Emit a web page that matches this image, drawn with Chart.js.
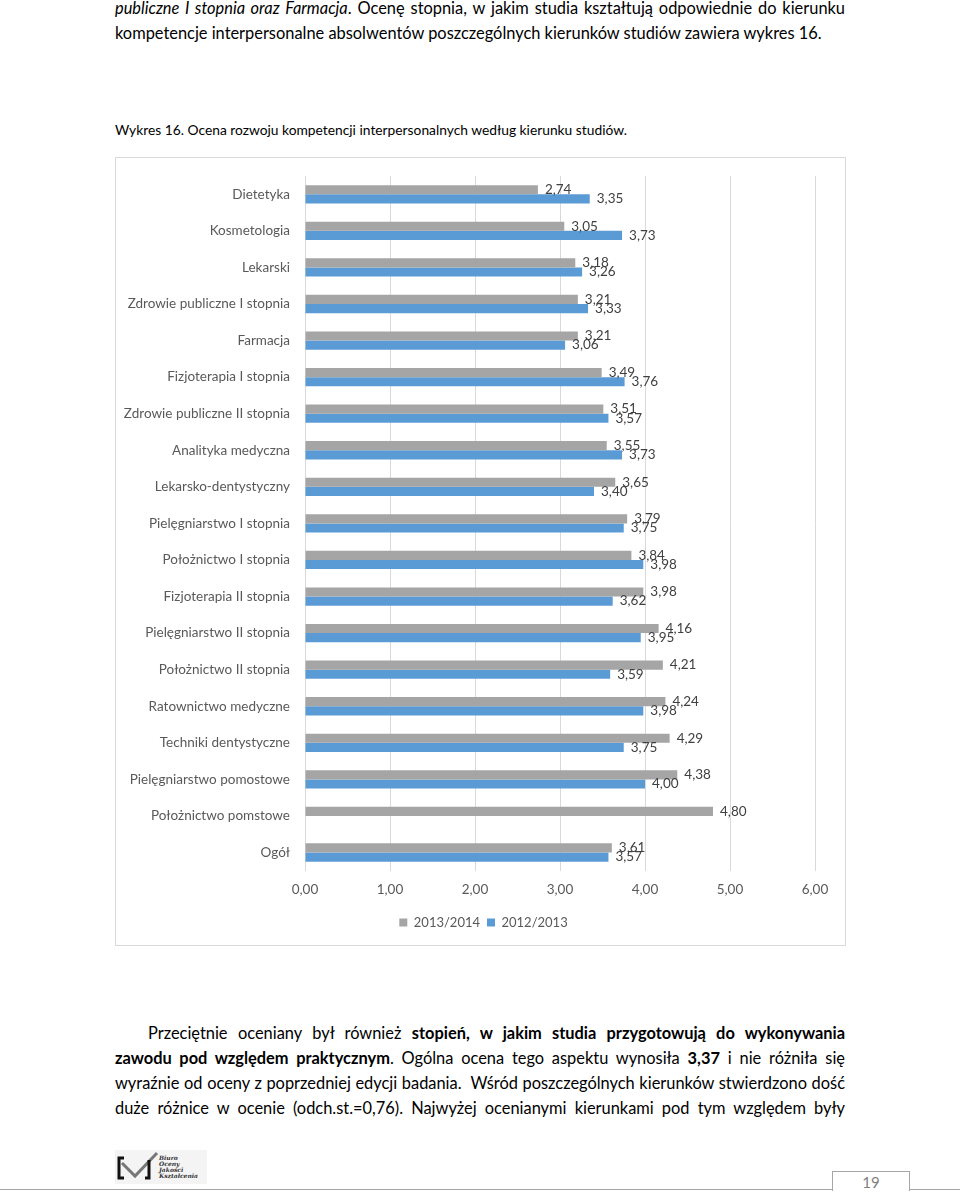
<!DOCTYPE html>
<html lang="pl">
<head>
<meta charset="utf-8">
<title>Wykres 16</title>
<script src="https://cdn.jsdelivr.net/npm/chart.js@4.4.1/dist/chart.umd.min.js"></script>
<style>
  html, body { margin: 0; padding: 0; background: #fff; }
  body {
    width: 960px; height: 1192px; position: relative; overflow: hidden;
    font-family: Lato, "Noto Sans", sans-serif; color: #000;
  }
  .para { position: absolute; left: 115px; width: 730px; font-size: 16.4px; }
  .para div { height: 24.5px; line-height: 24.5px; }
  .just { text-align: justify; text-align-last: justify; }
  .caption {
    position: absolute; left: 115px; top: 121px; font-size: 13.5px; line-height: 18px;
    white-space: nowrap; transform-origin: left center;
  }
  #chartBox {
    position: absolute; left: 115px; top: 157px; width: 731px; height: 789px;
    box-sizing: border-box; border: 1px solid #d9d9d9; background: #fff;
  }
  #chartWrap { position: relative; width: 729px; height: 787px; }
  .rule { position: absolute; left: 0; top: 1189px; width: 960px; height: 1px; background: #a6a6a6; }
  .pageNo {
    position: absolute; left: 832px; top: 1171px; width: 76px; height: 19px;
    border: 1px solid #a6a6a6; border-bottom: none; background: #fff;
    text-align: center; font-size: 15px; line-height: 21px; color: #7f7f7f;
  }
  .logo { position: absolute; left: 115px; top: 1150px; }
</style>
</head>
<body>

<div class="para" style="top:-4px;">
  <div class="just"><i>publiczne I stopnia oraz Farmacja</i>. Ocenę stopnia, w jakim studia kształtują odpowiednie do kierunku</div>
  <div>kompetencje interpersonalne absolwentów poszczególnych kierunków studiów zawiera wykres 16.</div>
</div>

<div class="caption" id="caption">Wykres 16. Ocena rozwoju kompetencji interpersonalnych według kierunku studiów.</div>

<div id="chartBox">
  <div id="chartWrap"><canvas id="chart"></canvas></div>
</div>

<div class="para" style="top:1020px;">
  <div class="just" style="line-height:25px;height:25px;text-indent:33px;">Przeciętnie oceniany był również <b>stopień, w jakim studia przygotowują do wykonywania</b></div>
  <div class="just" style="line-height:25px;height:25px;"><b>zawodu pod względem praktycznym</b>. Ogólna ocena tego aspektu wynosiła <b>3,37</b> i nie różniła się</div>
  <div class="just" style="line-height:25px;height:25px;">wyraźnie od oceny z poprzedniej edycji badania.&nbsp; Wśród poszczególnych kierunków stwierdzono dość</div>
  <div class="just" style="line-height:25px;height:25px;">duże różnice w ocenie (odch.st.=0,76). Najwyżej ocenianymi kierunkami pod tym względem były</div>
</div>

<svg class="logo" width="92" height="34" viewBox="0 0 92 34">
  <rect x="0" y="0" width="92" height="34" fill="#f4f4f4"/>
  <path d="M9 8 H4 V28 H9" fill="none" stroke="#111" stroke-width="3"/>
  <path d="M7 13 L20 26 L42 3" fill="none" stroke="#777" stroke-width="3"/>
  <path d="M34 10 V28 H30" fill="none" stroke="#111" stroke-width="3"/>
  <g font-family="DejaVu Serif, serif" font-style="italic" font-weight="bold" font-size="6" fill="#333">
    <text x="44" y="10">Biuro</text>
    <text x="44" y="16">Oceny</text>
    <text x="44" y="22">Jakości</text>
    <text x="44" y="28">Kształcenia</text>
  </g>
</svg>

<div class="rule"></div>
<div class="pageNo">19</div>

<script>
const categories = [
  "Dietetyka",
  "Kosmetologia",
  "Lekarski",
  "Zdrowie publiczne I stopnia",
  "Farmacja",
  "Fizjoterapia I stopnia",
  "Zdrowie publiczne II stopnia",
  "Analityka medyczna",
  "Lekarsko-dentystyczny",
  "Pielęgniarstwo I stopnia",
  "Położnictwo I stopnia",
  "Fizjoterapia II stopnia",
  "Pielęgniarstwo II stopnia",
  "Położnictwo II stopnia",
  "Ratownictwo medyczne",
  "Techniki dentystyczne",
  "Pielęgniarstwo pomostowe",
  "Położnictwo pomstowe",
  "Ogół",
];

const series2013 = [2.74, 3.05, 3.18, 3.21, 3.21, 3.49, 3.51, 3.55, 3.65, 3.79, 3.84, 3.98, 4.16, 4.21, 4.24, 4.29, 4.38, 4.80, 3.61];
const series2012 = [3.35, 3.73, 3.26, 3.33, 3.06, 3.76, 3.57, 3.73, 3.40, 3.75, 3.98, 3.62, 3.95, 3.59, 3.98, 3.75, 4.00, null, 3.57];

const seriesNames = ["2013/2014", "2012/2013"];
const axisTicks = ["0,00", "1,00", "2,00", "3,00", "4,00", "5,00", "6,00"];

const FONT = "Lato, 'Noto Sans', sans-serif";
const formatNum = (v) => v.toFixed(2).replace(".", ",");

// caption has the same width as in the document
(function fitCaption() {
  const el = document.getElementById("caption");
  const w = el.getBoundingClientRect().width;
  el.style.transform = `scaleX(${512 / w})`;
})();

const valueLabels = {
  id: "valueLabels",
  afterDatasetsDraw(chart) {
    const ctx = chart.ctx;
    ctx.save();
    ctx.font = `13.5px ${FONT}`;
    ctx.fillStyle = "#404040";
    ctx.textBaseline = "middle";
    ctx.textAlign = "left";
    chart.data.datasets.forEach((ds, i) => {
      chart.getDatasetMeta(i).data.forEach((bar, j) => {
        const v = ds.data[j];
        if (v == null) return;
        ctx.fillText(formatNum(v), bar.x + 7, bar.y);
      });
    });
    ctx.restore();
  },
};

// legend is centred under the whole frame, not only under the plot
const legendShift = {
  id: "legendShift",
  afterLayout(chart) {
    chart.legend.left += 36;
  },
};

Chart.defaults.font.family = FONT;
Chart.defaults.color = "#595959";

new Chart(document.getElementById("chart"), {
  type: "bar",
  data: {
    labels: categories,
    datasets: [
      { label: seriesNames[0], data: series2013, backgroundColor: "#a5a5a5" },
      { label: seriesNames[1], data: series2012, backgroundColor: "#5b9bd5" },
    ],
  },
  plugins: [valueLabels, legendShift],
  options: {
    indexAxis: "y",
    responsive: true,
    maintainAspectRatio: false,
    animation: false,
    datasets: { bar: { barPercentage: 1, categoryPercentage: 0.5 } },
    layout: { padding: { top: 18, left: 0, right: 30, bottom: 6 } },
    plugins: {
      tooltip: { enabled: false },
      legend: {
        position: "bottom",
        labels: {
          boxWidth: 8,
          boxHeight: 8,
          padding: 7,
          color: "#595959",
          font: { size: 13 },
        },
      },
    },
    scales: {
      x: {
        min: 0,
        max: 6,
        ticks: {
          stepSize: 1,
          padding: 11,
          color: "#595959",
          font: { size: 13.5 },
          callback: (value, index) => axisTicks[index],
        },
        grid: { color: "#d9d9d9", drawTicks: false },
        border: { display: false },
      },
      y: {
        ticks: { padding: 15, color: "#595959", font: { size: 13.5 } },
        grid: { display: false, drawTicks: false },
        border: { display: false },
        afterFit: (scale) => {
          scale.width = 189;
          scale.paddingTop = 0;
          scale.paddingBottom = 0;
        },
      },
    },
  },
});
</script>
</body>
</html>
